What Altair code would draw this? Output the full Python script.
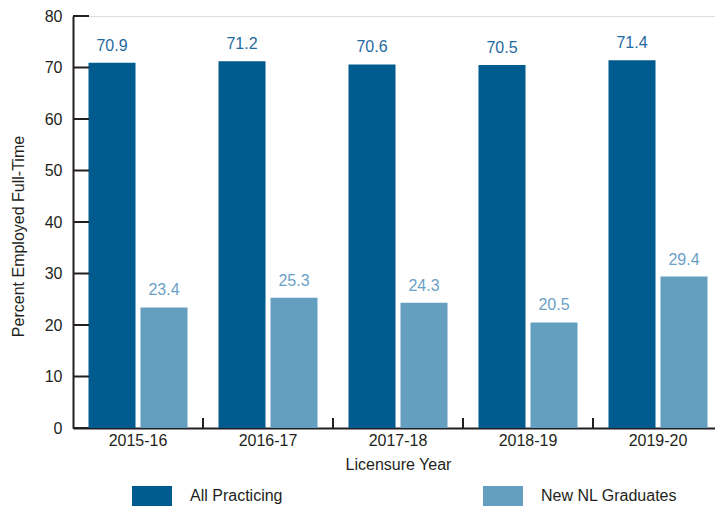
import altair as alt
import pandas as pd

years = ["2015-16", "2016-17", "2017-18", "2018-19", "2019-20"]
series = ["All Practicing", "New NL Graduates"]
all_practicing = [70.9, 71.2, 70.6, 70.5, 71.4]
new_grads = [23.4, 25.3, 24.3, 20.5, 29.4]
y_ticks = [0, 10, 20, 30, 40, 50, 60, 70, 80]

rows = []
for i, y in enumerate(years):
    rows.append({"year": y, "series": series[0], "value": all_practicing[i]})
    rows.append({"year": y, "series": series[1], "value": new_grads[i]})
df = pd.DataFrame(rows)

bar_colors = ["#005b8f", "#659fc0"]
label_colors = ["#1f6aa0", "#6a9fc6"]
ink = "#231f20"
FONT = "Liberation Sans"
W, H = 650, 412

xenc = alt.X("year:N", sort=years, scale=alt.Scale(paddingInner=0, paddingOuter=0),
             axis=alt.Axis(title="Licensure Year", labelAngle=0, ticks=False, tickSize=0,
                           labelPadding=4, titlePadding=8, domainColor=ink, domainWidth=2,
                           labelFontSize=16, titleFontSize=16, labelColor=ink, titleColor=ink,
                           labelFont=FONT, titleFont=FONT, titleFontWeight="normal"))
yenc = alt.Y("value:Q", scale=alt.Scale(domain=[0, 80], nice=False),
             axis=alt.Axis(title="Percent Employed Full-Time", values=y_ticks, ticks=False, tickSize=0,
                           grid=False, labelPadding=11, domainColor=ink, domainWidth=2,
                           labelFontSize=16, titleFontSize=16, labelColor=ink, titleColor=ink,
                           labelFont=FONT, titleFont=FONT, titleFontWeight="normal",
                           titleX=-47, titleY=220))
xoff = alt.XOffset("series:N", sort=series,
                   scale=alt.Scale(paddingInner=0.096, paddingOuter=0.298))

bars = alt.Chart(df).mark_bar().encode(
    x=xenc, y=yenc, xOffset=xoff,
    color=alt.Color("series:N", sort=series,
                    scale=alt.Scale(domain=series, range=bar_colors),
                    legend=alt.Legend(title=None, orient="none", legendX=59, legendY=460,
                                      direction="horizontal", columns=2, columnPadding=200,
                                      symbolType="M-1,-0.5H1V0.5H-1Z", symbolSize=1600,
                                      symbolStrokeWidth=0, labelOffset=18, labelFontSize=16,
                                      labelFont=FONT, labelColor=ink, padding=0, labelLimit=300)),
)

labels = alt.Chart(df).mark_text(baseline="bottom", dy=-9, fontSize=16, font=FONT).encode(
    x=alt.X("year:N", sort=years), y=alt.Y("value:Q"), xOffset=xoff,
    text=alt.Text("value:Q", format=".1f"),
    color=alt.Color("series:N", sort=series,
                    scale=alt.Scale(domain=series, range=label_colors), legend=None),
)

ytick_df = pd.DataFrame({"t": y_ticks})
yticks = alt.Chart(ytick_df).mark_rule(color=ink, strokeWidth=2).encode(
    y=alt.Y("t:Q"), x=alt.value(0), x2=alt.value(16),
)

xtick_df = pd.DataFrame({"year": years[1:]})
xticks = alt.Chart(xtick_df).mark_rule(color=ink, strokeWidth=2).encode(
    x=alt.X("year:N", sort=years, bandPosition=0), y=alt.value(H - 10), y2=alt.value(H),
)

chart = alt.layer(bars, labels, yticks, xticks).resolve_scale(color="independent").properties(
    width=W, height=H,
    autosize=alt.AutoSizeParams(type="none"),
    padding={"left": 65, "top": 8, "right": -8, "bottom": 80},
).configure_view(stroke=None).configure(background="white")

chart.save("out.html", embed_options={"renderer": "svg", "actions": False})
